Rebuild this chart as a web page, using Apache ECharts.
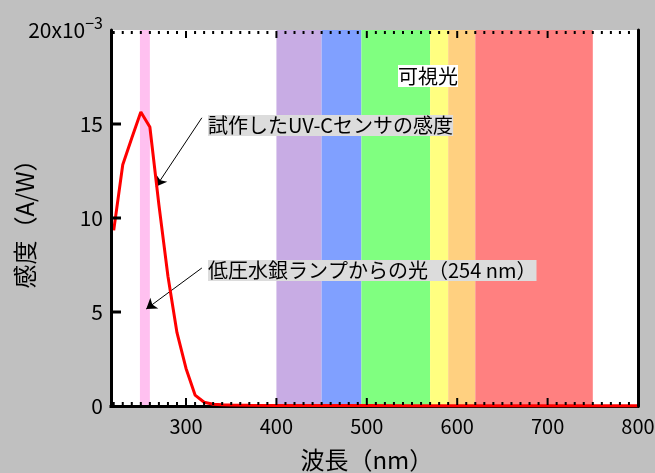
<!DOCTYPE html>
<html><head><meta charset="utf-8">
<script src="https://cdn.jsdelivr.net/npm/echarts@6/dist/echarts.min.js"></script>
<style>html,body{margin:0;padding:0;background:#c0c0c0;}#c{width:655px;height:473px;}</style>
</head><body><div id="c"></div>
<script>
// wavelength (nm) and sensitivity (x10^-3 A/W)
const wavelengths = [220,230,240,250,260,270,280,290,300,310,320,330,340,350,370,400,450,500,550,600,650,700,750,800];
const sensitivity = [9.34,12.83,14.25,15.64,14.84,10.7,6.9,3.9,2.0,0.58,0.2,0.09,0.06,0.05,0.04,0.03,0.02,0.02,0.015,0.01,0.01,0.01,0.01,0.01];
// colour bands (nm)
const bandStarts = [249,400,450,494,570,590,620];
const bandEnds   = [260,450,494,570,590,620,750];
const bandColors = ['#ffc0f0','#c8ace4','#80a0ff','#80ff80','#ffff80','#ffd080','#ff8080'];
// ticks and tick labels
const xMajorTicks = [300,400,500,600,700,800];
const xTickLabels = ['300','400','500','600','700','800'];
const xMinorTicks = []; for (let v = 220; v < 800; v += 10) if (v % 100 !== 0) xMinorTicks.push(v);
const yTicks = [5,10,15];
const yTickLabels = ['0','5','10','15','20'];
// annotations
const annoText1 = '試作したUV-Cセンサの感度';
const annoText2 = '低圧水銀ランプからの光（254 nm）';
const arrow1 = [[317.5,15.33],[267,11.68]];
const arrow2 = [[317.5,7.34],[256,5.16]];
const visibleText = '可視光';

const FONT = '"Noto Sans CJK JP", "Noto Sans", sans-serif';
const DATA_MIN = 217;          // visible left edge of the plot (nm)
const AXIS_MIN = 200, XMAX = 800, YMAX = 20;
const PLOT_L = 111, PLOT_R = 638;
const PX_PER_NM = (PLOT_R - PLOT_L) / (XMAX - DATA_MIN);
const GRID_L = PLOT_L - (DATA_MIN - AXIS_MIN) * PX_PER_NM;
const chart = echarts.init(document.getElementById('c'));
const baseX = {type:'value', min:AXIS_MIN, max:XMAX, splitLine:{show:false}, z:5};

// tick marks drawn with a custom series; dir: 'up','down','right'
function tickSeries(points, len, thick, dir){
  return {type:'custom', xAxisIndex:0, yAxisIndex:0, z:20, silent:true, clip:false,
    data: points,
    renderItem:function(params, api){
      const p = api.coord([api.value(0), api.value(1)]);
      let shape;
      if (dir === 'up') shape = {x:p[0]-thick/2, y:p[1]-1-len, width:thick, height:len};
      else if (dir === 'down') shape = {x:p[0]-thick/2, y:p[1]+1, width:thick, height:len};
      else shape = {x:p[0]+1, y:p[1]-thick/2, width:len, height:thick};
      return {type:'rect', shape:shape, style:{fill:'#000'}, z2:10};
    }};
}
chart.setOption({
  backgroundColor:'#c0c0c0',
  animation:false,
  textStyle:{fontFamily:FONT},
  grid:{left:GRID_L, right:655-PLOT_R, top:30, bottom:67, containLabel:false, outerBoundsMode:'none'},
  xAxis:[
    Object.assign({}, baseX, {position:'bottom', interval:100,
      name:'波長（nm）', nameLocation:'middle', nameGap:42, nameMoveOverlap:false,
      nameTextStyle:{fontSize:24, color:'#000', fontFamily:FONT},
      axisLine:{show:true, lineStyle:{color:'#000', width:3}},
      axisTick:{show:false},
      axisLabel:{show:true, color:'#000', fontSize:20, margin:10, fontFamily:FONT,
        formatter:function(v){ const i = xMajorTicks.indexOf(v); return i>=0 ? xTickLabels[i] : ''; }}}),
    Object.assign({}, baseX, {position:'top', interval:100,
      axisLine:{show:true, lineStyle:{color:'#000', width:3}},
      axisTick:{show:false}, axisLabel:{show:false}})
  ],
  yAxis:[
    {type:'value', position:'left', offset:-(PLOT_L-GRID_L), min:0, max:YMAX, interval:5, z:10,
     name:'感度（A/W）', nameLocation:'middle', nameGap:74, nameMoveOverlap:false,
     nameTextStyle:{fontSize:24, color:'#000', fontFamily:FONT},
     splitLine:{show:false},
     axisLine:{show:true, lineStyle:{color:'#000', width:3}},
     axisTick:{show:false},
     axisLabel:{color:'#000', fontSize:21, margin:8, fontFamily:FONT,
       formatter:function(v){ const s = yTickLabels[v/5]; return v===20 ? '{b|'+s+'x10}{sup|−3}' : s; },
       rich:{b:{fontSize:21, color:'#000', fontFamily:FONT}, sup:{fontSize:16, color:'#000', fontFamily:FONT, padding:[0,0,14,0]}}}},
    {type:'value', position:'right', min:0, max:YMAX, interval:5, z:10,
     splitLine:{show:false},
     axisLine:{show:true, lineStyle:{color:'#000', width:3}},
     axisTick:{show:false}, axisLabel:{show:false}}
  ],
  series:[
    {type:'line', xAxisIndex:0, yAxisIndex:0, data:[], z:0, silent:true,
     markArea:{z:0, silent:true, data: [[{xAxis:DATA_MIN, itemStyle:{color:'#ffffff', opacity:1}},{xAxis:XMAX}]].concat(
       bandStarts.map((s,i)=>[{xAxis:s, itemStyle:{color:bandColors[i], opacity:1}},{xAxis:bandEnds[i]}]))}},
    {type:'line', xAxisIndex:0, yAxisIndex:0, z:6,
     data: wavelengths.map((w,i)=>[w, sensitivity[i]]),
     showSymbol:false, symbol:'none', clip:false,
     lineStyle:{color:'#ff0000', width:3}},
    {type:'line', xAxisIndex:0, yAxisIndex:0, data:[], z:6, silent:true,
     markLine:{silent:true, symbol:['none','arrow'], symbolSize:10, label:{show:false},
       lineStyle:{color:'#000', width:1, type:'solid', opacity:1},
       data:[[{coord:arrow1[0]},{coord:arrow1[1]}],[{coord:arrow2[0]},{coord:arrow2[1]}]]}},
    tickSeries(xMajorTicks.map(v=>[v,0]), 7, 2, 'up'),
    tickSeries(xMinorTicks.map(v=>[v,0]), 3, 2, 'up'),
    tickSeries(xMajorTicks.map(v=>[v,YMAX]), 7, 2, 'down'),
    tickSeries(xMinorTicks.map(v=>[v,YMAX]), 3, 2, 'down'),
    tickSeries(yTicks.map(v=>[DATA_MIN,v]), 9, 3, 'right')
  ],
  graphic:[
    {type:'rect', z:8, silent:true, shape:{x:GRID_L-3, y:20, width:PLOT_L-1.5-(GRID_L-3), height:400}, style:{fill:'#c0c0c0'}},
    {type:'text', left:208, top:115, z:10, style:{text:annoText1, fontSize:20, fontFamily:FONT, fill:'#000', backgroundColor:'#dcdcdc', lineHeight:21}},
    {type:'text', left:208, top:260, z:10, style:{text:annoText2, fontSize:20, fontFamily:FONT, fill:'#000', backgroundColor:'#dcdcdc', lineHeight:21}},
    {type:'text', left:398, top:65, z:10, style:{text:visibleText, fontSize:20, fontFamily:FONT, fill:'#000', backgroundColor:'#ffffff', lineHeight:22}}
  ]
});
</script></body></html>
